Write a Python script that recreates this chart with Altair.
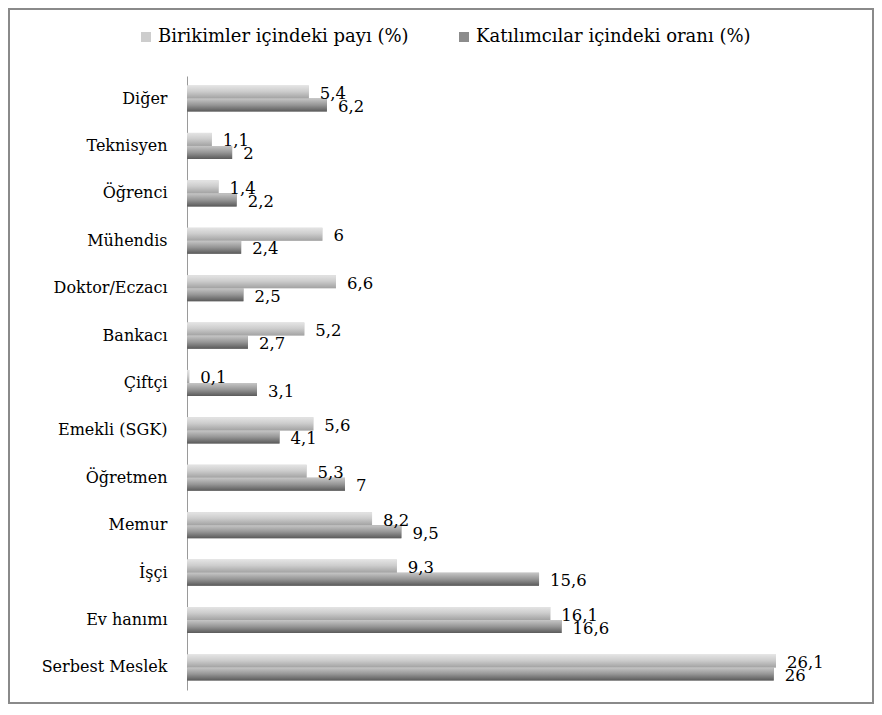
import altair as alt
import pandas as pd

categories = ["Diğer", "Teknisyen", "Öğrenci", "Mühendis", "Doktor/Eczacı", "Bankacı",
              "Çiftçi", "Emekli (SGK)", "Öğretmen", "Memur", "İşçi", "Ev hanımı", "Serbest Meslek"]
birikim = [5.4, 1.1, 1.4, 6, 6.6, 5.2, 0.1, 5.6, 5.3, 8.2, 9.3, 16.1, 26.1]
katilimci = [6.2, 2, 2.2, 2.4, 2.5, 2.7, 3.1, 4.1, 7, 9.5, 15.6, 16.6, 26]
series_names = ["Birikimler içindeki payı (%)", "Katılımcılar içindeki oranı (%)"]

rows = []
for c, a, b in zip(categories, birikim, katilimci):
    for s, v in zip(series_names, (a, b)):
        rows.append({"kategori": c, "seri": s, "deger": v,
                     "etiket": f"{v:g}".replace(".", ",")})
df = pd.DataFrame(rows)

FONT = "DejaVu Serif, Liberation Serif, serif"

y_enc = alt.Y("kategori:N", sort=categories,
              scale=alt.Scale(paddingInner=0.45),
              axis=alt.Axis(title=None, ticks=False, tickSize=0, labelPadding=20,
                            labelFont=FONT, labelFontSize=16, labelColor="#000000",
                            domainColor="#9a9a9a", domainWidth=1, grid=False))
x_enc = alt.X("deger:Q", scale=alt.Scale(domain=[0, 30], nice=False), axis=None)
yoff = alt.YOffset("seri:N", scale=alt.Scale(domain=series_names))

base = alt.Chart(df)

legend_bars = base.mark_bar().encode(
    y=y_enc, x=x_enc, yOffset=yoff,
    color=alt.Color("seri:N",
                    scale=alt.Scale(domain=series_names, range=["#cdcdcd", "#8c8c8c"]),
                    legend=alt.Legend(title=None, orient="none", legendX=-50, legendY=-48,
                                      direction="horizontal", symbolType="square",
                                      symbolSize=100, symbolStrokeWidth=0,
                                      labelFont=FONT, labelFontSize=18, labelColor="#000000",
                                      labelLimit=500, columnPadding=46, labelOffset=3))
)

grad_light = alt.Gradient(gradient="linear", x1=0, x2=0, y1=0, y2=1,
                          stops=[alt.GradientStop(color="#e4e4e4", offset=0),
                                 alt.GradientStop(color="#cdcdcd", offset=0.45),
                                 alt.GradientStop(color="#a2a2a2", offset=1)])
grad_dark = alt.Gradient(gradient="linear", x1=0, x2=0, y1=0, y2=1,
                         stops=[alt.GradientStop(color="#c6c6c6", offset=0),
                                alt.GradientStop(color="#969696", offset=0.5),
                                alt.GradientStop(color="#5a5a5a", offset=1)])

light = base.transform_filter(alt.datum.seri == series_names[0]).mark_bar(color=grad_light).encode(
    y=y_enc, x=x_enc, yOffset=yoff)
dark = base.transform_filter(alt.datum.seri == series_names[1]).mark_bar(color=grad_dark).encode(
    y=y_enc, x=x_enc, yOffset=yoff)

labels = base.mark_text(align="left", baseline="middle", dx=11, dy=2,
                        font=FONT, fontSize=16.5, color="#000000").encode(
    y=y_enc, x=x_enc, yOffset=yoff, text="etiket:N")

border = alt.Chart(pd.DataFrame({"k": [0]})).mark_rect(
    fill="transparent", stroke="#8a8a8a", strokeWidth=2).encode(
    x=alt.value(-178), x2=alt.value(686), y=alt.value(-67), y2=alt.value(627))

chart = alt.layer(border, legend_bars, light, dark, labels).properties(
    width=677, height=614,
    autosize=alt.AutoSizeParams(type="none"),
    padding={"left": 179, "top": 68, "right": 10, "bottom": 14},
).configure_view(stroke=None)

chart.save("out.html", embed_options={"renderer": "svg", "actions": False})
